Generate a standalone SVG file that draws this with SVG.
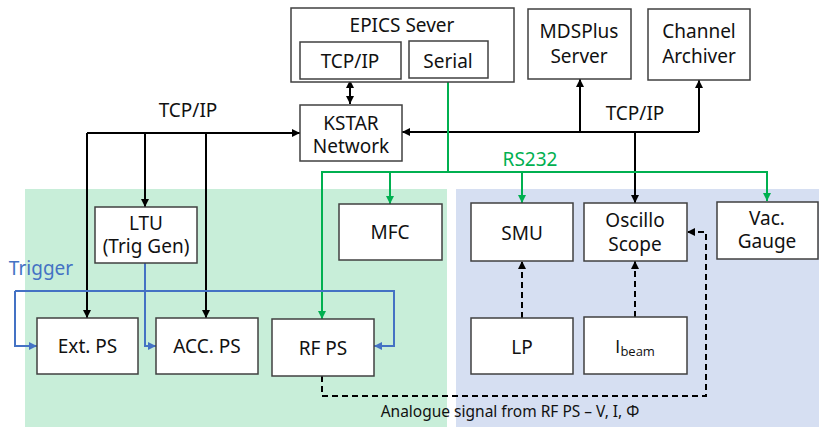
<svg xmlns="http://www.w3.org/2000/svg" width="819" height="427" viewBox="0 0 819 427">
<style>
text,tspan{font-family:"Noto Sans","Open Sans","DejaVu Sans",sans-serif;font-size:19px;fill:#111}
text{text-anchor:middle}
.box{fill:#fff;stroke:#404040;stroke-width:1.5}
.k{fill:none;stroke:#000;stroke-width:2}
.g{fill:none;stroke:#00B050;stroke-width:2}
.b{fill:none;stroke:#4472C4;stroke-width:2}
.d{fill:none;stroke:#000;stroke-width:2;stroke-dasharray:6,4}
</style>
<defs>
<marker id="ak" viewBox="0 0 8 8" refX="8" refY="4" markerWidth="8" markerHeight="8" markerUnits="userSpaceOnUse" orient="auto-start-reverse"><path d="M0,0L8,4L0,8z" fill="#000"/></marker>
<marker id="ag" viewBox="0 0 8 8" refX="8" refY="4" markerWidth="8" markerHeight="8" markerUnits="userSpaceOnUse" orient="auto-start-reverse"><path d="M0,0L8,4L0,8z" fill="#00B050"/></marker>
<marker id="ab" viewBox="0 0 8 8" refX="8" refY="4" markerWidth="8" markerHeight="8" markerUnits="userSpaceOnUse" orient="auto-start-reverse"><path d="M0,0L8,4L0,8z" fill="#4472C4"/></marker>
</defs>
<rect width="819" height="427" fill="#fff"/>
<rect x="25" y="189" width="422" height="238" fill="#C8EED9"/>
<rect x="456" y="189" width="363" height="238" fill="#D6DFF2"/>

<g id="connectors">
<path class="k" d="M350,80V104" marker-start="url(#ak)" marker-end="url(#ak)"/>
<path class="k" d="M87,133H300" marker-end="url(#ak)"/>
<path class="k" d="M87,133V318" marker-end="url(#ak)"/>
<path class="k" d="M145,133V207" marker-end="url(#ak)"/>
<path class="k" d="M206,133V318" marker-end="url(#ak)"/>
<path class="k" d="M699,132H402" stroke-width="2.5" marker-end="url(#ak)"/>
<path class="k" d="M580,132V79" marker-end="url(#ak)"/>
<path class="k" d="M699,132V80" marker-end="url(#ak)"/>
<path class="k" d="M635,132V203" marker-end="url(#ak)"/>
<path class="g" d="M448,172V78"/>
<path class="g" d="M448,172H322V319" marker-end="url(#ag)"/>
<path class="g" d="M390,172V204" marker-end="url(#ag)"/>
<path class="g" d="M448,172H767V201" marker-end="url(#ag)"/>
<path class="g" d="M522,172V203" marker-end="url(#ag)"/>
<path class="b" d="M145,263V346H156" marker-end="url(#ab)"/>
<path class="b" d="M15,291H394V346H374" marker-end="url(#ab)"/>
<path class="b" d="M15,291V346H37" marker-end="url(#ab)"/>
<path class="d" d="M322,376V396H706V232H687" marker-end="url(#ak)"/>
<path class="d" d="M522,318V261" marker-end="url(#ak)"/>
<path class="d" d="M635,317V261" marker-end="url(#ak)"/>
</g>

<text x="188" y="117">TCP/IP</text>
<text x="635" y="120">TCP/IP</text>
<text x="530" y="166" style="fill:#00B050">RS232</text>
<text x="41" y="275" style="fill:#4472C4">Trigger</text>
<text x="510" y="417" style="font-size:15.5px">Analogue signal from RF PS – V, I, Φ</text>

<g id="epics"><rect class="box" x="291" y="8" width="223" height="74"/><text x="402" y="32">EPICS Sever</text></g>
<g id="tcpip"><rect class="box" x="300" y="42" width="101" height="37"/><text x="350" y="68">TCP/IP</text></g>
<g id="serial"><rect class="box" x="409" y="41" width="79" height="37"/><text x="448" y="68">Serial</text></g>
<g id="kstar"><rect class="box" x="300" y="105" width="102" height="56"/><text x="351" y="130">KSTAR</text><text x="351" y="153">Network</text></g>
<g id="mdsplus"><rect class="box" x="528" y="9" width="103" height="70"/><text x="579" y="38">MDSPlus</text><text x="579" y="63">Server</text></g>
<g id="archiver"><rect class="box" x="648" y="9" width="102" height="71"/><text x="699" y="38">Channel</text><text x="699" y="63">Archiver</text></g>
<g id="ltu"><rect class="box" x="95" y="207" width="102" height="56"/><text x="146" y="230">LTU</text><text x="146" y="253">(Trig Gen)</text></g>
<g id="mfc"><rect class="box" x="339" y="204" width="103" height="56"/><text x="390" y="239">MFC</text></g>
<g id="smu"><rect class="box" x="471" y="203" width="102" height="58"/><text x="522" y="240">SMU</text></g>
<g id="osc"><rect class="box" x="584" y="203" width="103" height="58"/><text x="635" y="227">Oscillo</text><text x="635" y="251">Scope</text></g>
<g id="vac"><rect class="box" x="717" y="202" width="101" height="57"/><text x="767" y="225">Vac.</text><text x="767" y="248">Gauge</text></g>
<g id="extps"><rect class="box" x="37" y="318" width="101" height="56"/><text x="87.5" y="353">Ext. PS</text></g>
<g id="accps"><rect class="box" x="156" y="318" width="102" height="56"/><text x="207" y="353">ACC. PS</text></g>
<g id="rfps"><rect class="box" x="272" y="319" width="102" height="57"/><text x="323" y="355">RF PS</text></g>
<g id="lp"><rect class="box" x="471" y="318" width="102" height="56"/><text x="522" y="354">LP</text></g>
<g id="ibeam"><rect class="box" x="584" y="317" width="103" height="57"/><text x="635" y="353" font-family="Open Sans, sans-serif" style="font-family:'Open Sans',sans-serif">I<tspan style="font-family:'Open Sans',sans-serif;font-size:13px" dy="3">beam</tspan></text></g>
</svg>
